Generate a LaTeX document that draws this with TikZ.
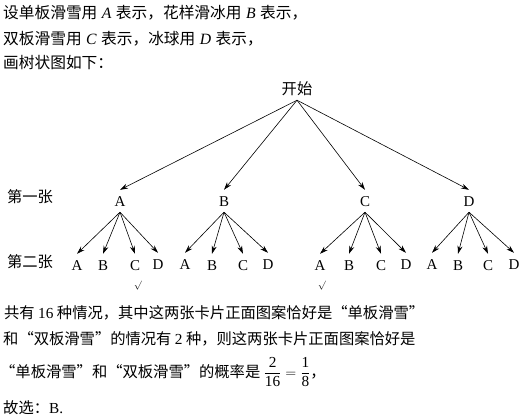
\documentclass[tikz,border=0pt]{standalone}
\usepackage{fontspec}
\setmainfont{Noto Sans CJK SC}
\newfontfamily\tnrf{Liberation Serif}
\newcommand\tnr[1]{{\tnrf #1}}
\newcommand\tni[1]{\hspace{4.5pt}{\tnrf\itshape #1}\hspace{4.5pt}}
\newcommand\oq{\makebox[1em][r]{“}}
\newcommand\cq{\makebox[1em][l]{”}}
\usetikzlibrary{arrows.meta}
\begin{document}
\begin{tikzpicture}[x=1pt,y=-1pt,
  txt/.style={anchor=base west, inner sep=0pt, font=\fontsize{15.3}{18}\selectfont},
  toptxt/.style={txt, font=\fontsize{15.7}{18}\selectfont},
  lab/.style={inner xsep=0pt, inner ysep=6pt, text height=10pt, text depth=0pt, font=\fontsize{15}{18}\selectfont\tnrf},
  lvl/.style={inner sep=0pt, font=\fontsize{15.3}{18}\selectfont},
  ck/.style={inner sep=0pt, font=\fontsize{9}{9}\selectfont},
  arr/.style={-{Stealth[length=8pt,width=5pt]}, line width=0.6pt}]
\useasboundingbox (0,0) rectangle (526,418);
\node[toptxt] (t1) at (3,18) {设单板滑雪用\tni{A}表示，花样滑冰用\tni{B}表示，};
\node[toptxt] (t2) at (3,44) {双板滑雪用\tni{C}表示，冰球用\tni{D}表示，};
\node[toptxt] (t3) at (3,68) {画树状图如下：};

\node[lab] (S) at (297,89) {\rmfamily\fontsize{15.3}{18}\selectfont 开始};
\node[lab] (A1) at (120,201) {A};
\node[lab] (B1) at (224,201) {B};
\node[lab] (C1) at (365,201) {C};
\node[lab] (D1) at (469,201) {D};

\node[lvl] (L1) at (30,197) {第一张};
\node[lvl] (L2) at (30,262) {第二张};

\node[lab] (AA2) at (77,265) {A};
\node[lab] (AB2) at (103,265) {B};
\node[lab] (AC2) at (135,265) {C};
\node[lab] (AD2) at (158,264) {D};
\node[lab] (BA2) at (185,264) {A};
\node[lab] (BB2) at (212,265) {B};
\node[lab] (BC2) at (243,265) {C};
\node[lab] (BD2) at (268,264) {D};
\node[lab] (CA2) at (320,265) {A};
\node[lab] (CB2) at (349,265) {B};
\node[lab] (CC2) at (381,265) {C};
\node[lab] (CD2) at (406,264) {D};
\node[lab] (DA2) at (432,264) {A};
\node[lab] (DB2) at (458,265) {B};
\node[lab] (DC2) at (488,265) {C};
\node[lab] (DD2) at (514,264) {D};

\node[ck] (ck1) at (138,286) {$\surd$};
\node[ck] (ck2) at (322,286) {$\surd$};

\foreach \c in {A1,B1,C1,D1} \draw[arr] (S.south) -- (\c.north);
\foreach \p in {A,B,C,D} \foreach \c in {A,B,C,D} \draw[arr] (\p1.south) -- (\p\c2.north);

\node[txt] (b1) at (4,318) {共有 \tnr{16} 种情况，其中这两张卡片正面图案恰好是\oq 单板滑雪\cq};
\node[txt] (b2) at (3,344) {和\oq 双板滑雪\cq 的情况有 \tnr{2} 种，则这两张卡片正面图案恰好是};
\node[txt] (b3) at (0,377) {\oq 单板滑雪\cq 和\oq 双板滑雪\cq 的概率是 $\displaystyle\frac{\hbox{\tnrf 2}}{\hbox{\tnrf 16}}=\frac{\hbox{\tnrf 1}}{\hbox{\tnrf 8}}$，};
\node[txt] (b4) at (3,413) {故选：\tnr{B.}};
\end{tikzpicture}
\end{document}
